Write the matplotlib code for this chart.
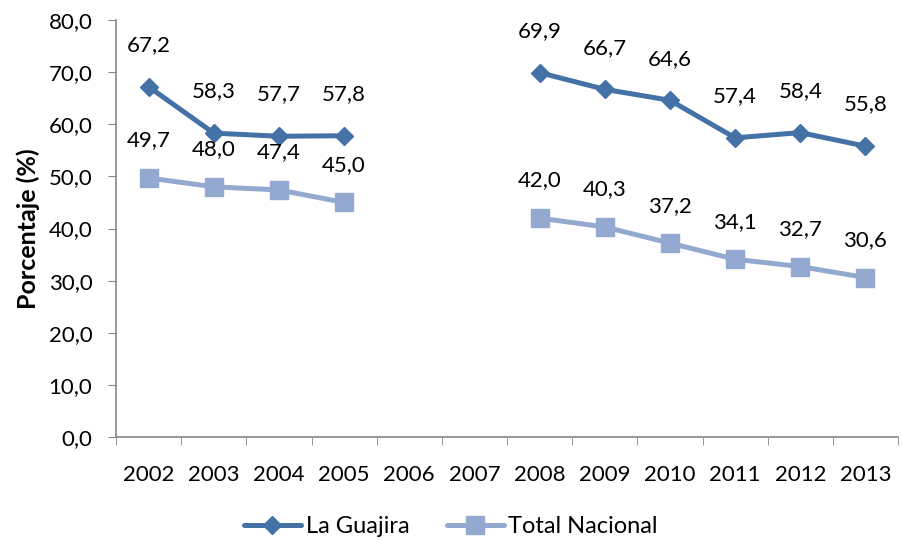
import numpy as np
import matplotlib.pyplot as plt

plt.rcParams['font.family'] = ['Lato', 'DejaVu Sans']

years = ['2002', '2003', '2004', '2005', '2006', '2007',
         '2008', '2009', '2010', '2011', '2012', '2013']
guajira = [67.2, 58.3, 57.7, 57.8, None, None, 69.9, 66.7, 64.6, 57.4, 58.4, 55.8]
nacional = [49.7, 48.0, 47.4, 45.0, None, None, 42.0, 40.3, 37.2, 34.1, 32.7, 30.6]

c_guaj = '#4471A6'
c_nac = '#93A9CF'

fig = plt.figure(figsize=(9.02, 5.41), dpi=100)
ax = fig.add_axes([0.1286, 0.1922, 0.8670, 0.7708])

x = np.arange(len(years))
g = np.array([np.nan if v is None else v for v in guajira])
n = np.array([np.nan if v is None else v for v in nacional])

ax.plot(x, g, color=c_guaj, lw=3.6, marker='D', ms=9.5, label='La Guajira',
        solid_capstyle='round', zorder=3)
ax.plot(x, n, color=c_nac, lw=3.6, marker='s', ms=13, label='Total Nacional',
        solid_capstyle='round', zorder=3)

for xi, v in zip(x, g):
    if not np.isnan(v):
        ax.annotate(f'{v:.1f}'.replace('.', ','), (xi, v), xytext=(0, 30),
                    textcoords='offset points', ha='center', va='center', fontsize=16)
for xi, v in zip(x, n):
    if not np.isnan(v):
        ax.annotate(f'{v:.1f}'.replace('.', ','), (xi, v), xytext=(0, 27),
                    textcoords='offset points', ha='center', va='center', fontsize=16)

ax.set_xlim(-0.5, len(years) - 0.5)
ax.set_ylim(0, 80)
ax.set_yticks(np.arange(0, 81, 10))
ax.set_yticklabels([f'{v:.1f}'.replace('.', ',') for v in np.arange(0, 81, 10)], fontsize=16)
ax.set_xticks(x)
ax.set_xticklabels(years, fontsize=16)
ax.set_xticks(np.arange(-0.5, len(years)), minor=True)
ax.tick_params(axis='x', which='major', length=0, pad=20)
ax.tick_params(axis='x', which='minor', length=6, color='#868686', direction='out')
ax.tick_params(axis='y', length=6, color='#868686', direction='out', pad=11)

for s in ['top', 'right']:
    ax.spines[s].set_visible(False)
for s in ['left', 'bottom']:
    ax.spines[s].set_color('#868686')
    ax.spines[s].set_linewidth(1.2)

ax.set_ylabel('Porcentaje (%)', fontsize=18, fontweight='bold', labelpad=6)

fig.legend(loc='lower center', bbox_to_anchor=(0.5, -0.032), ncol=2, frameon=False,
           fontsize=17, handlelength=2.4, columnspacing=1.6, handletextpad=0.2)

fig.savefig('out.png', dpi=100)
